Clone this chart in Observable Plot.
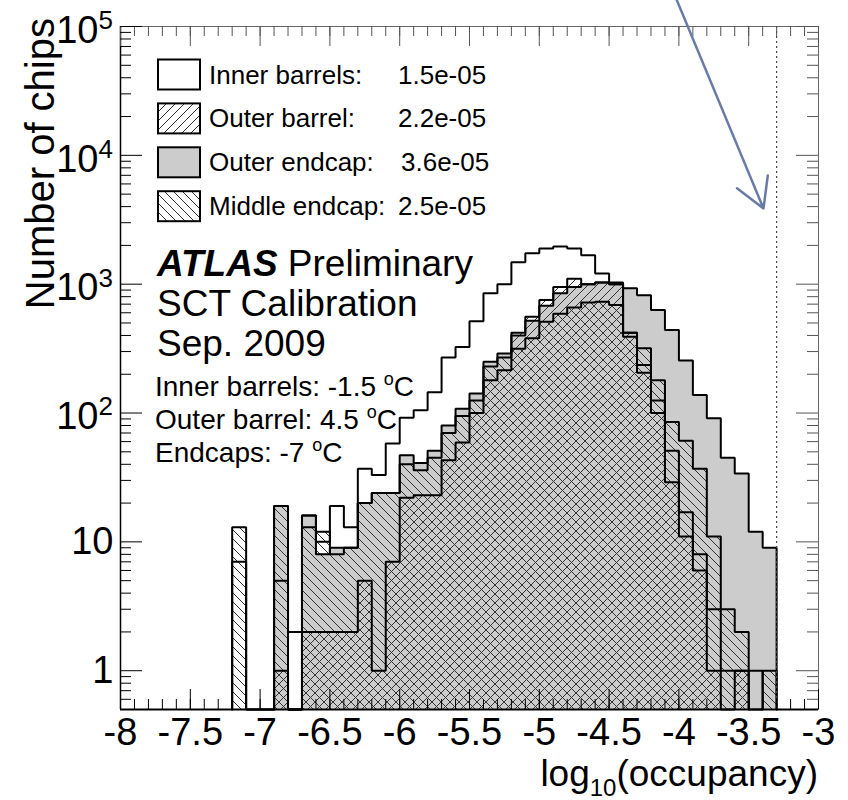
<!DOCTYPE html>
<html>
<head>
<meta charset="utf-8">
<script src="https://cdn.jsdelivr.net/npm/d3@7"></script>
<script src="https://cdn.jsdelivr.net/npm/@observablehq/plot@0.6"></script>
<style>
  body { margin: 0; background: #fff; }
  svg text { white-space: pre; }
</style>
</head>
<body>
<div id="chart"></div>
<script>
// ---------------- data ----------------
const binStart = [-7.2, -7.1, -7.0, -6.9, -6.8, -6.7, -6.6, -6.5, -6.4, -6.3,
                  -6.2, -6.1, -6.0, -5.9, -5.8, -5.7, -5.6, -5.5, -5.4, -5.3,
                  -5.2, -5.1, -5.0, -4.9, -4.8, -4.7, -4.6, -4.5, -4.4, -4.3,
                  -4.2, -4.1, -4.0, -3.9, -3.8, -3.7, -3.6, -3.5, -3.4];
const binWidth = 0.1;
const innerBarrels = [7, 0, 0, 5, 2, 16, 10, 19, 13, 37,
                      33, 58, 92, 105, 145, 270, 325, 515, 850, 1000,
                      1480, 1740, 1890, 1960, 1890, 1680, 1210, 1000, 420, 236,
                      125, 51, 17, 8, 3, 1, 1, 1, 0];
const outerBarrel = [0, 0, 0, 1, 0, 2, 2, 2, 2, 5,
                     1, 7, 22, 23, 23, 43, 59, 100, 180, 215,
                     420, 560, 754, 950, 1100, 1000, 1030, 1000, 420, 205,
                     100, 29, 11, 6, 1, 0, 1, 0, 0];
const outerEndcap = [0, 0, 0, 19, 0, 16, 8, 9, 9, 20,
                     24, 24, 47, 41, 51, 80, 108, 142, 250, 290,
                     400, 520, 680, 850, 950, 1000, 1030, 1030, 930, 820,
                     630, 440, 256, 138, 91, 45, 34, 12, 9];
const middleEndcap = [13, 0, 0, 19, 0, 13, 12, 8, 9, 20,
                      24, 24, 40, 36, 45, 70, 95, 125, 230, 270,
                      316, 380, 510, 590, 660, 720, 730, 690, 390, 318,
                      180, 85, 61, 37, 11, 3, 2, 0, 1];

const legendLabels = ["Inner barrels:", "Outer barrel:", "Outer endcap:", "Middle endcap:"];
const legendValues = ["1.5e-05", "2.2e-05", "3.6e-05", "2.5e-05"];
const legendValueX = [398, 398, 401, 398];

const xTickMajor = [-8, -7.5, -7, -6.5, -6, -5.5, -5, -4.5, -4, -3.5, -3];
const xTickLabels = ["-8", "-7.5", "-7", "-6.5", "-6", "-5.5", "-5", "-4.5", "-4", "-3.5", "-3"];
const yTickMajor = [1, 10, 100, 1000, 10000, 100000];
const yTickBase = ["1", "10", "10", "10", "10", "10"];
const yTickExp = ["", "", "2", "3", "4", "5"];

const thresholdX = [-3.3];
const arrowSpec = [{x1: -4.02, y1: 1.65e5, x2: -3.394, y2: 3870}];

const infoLines = ["SCT Calibration", "Sep. 2009"];
const tempLines = ["Inner barrels: -1.5 ", "Outer barrel: 4.5 ", "Endcaps: -7 "];

// ---------------- settings ----------------
const FONT = "'Liberation Sans', Arial, Helvetica, sans-serif";
const Y_MIN = 0.5, Y_MAX = 1e5;
const W = 848, H = 800, ML = 120, MR = 30, MT = 26, MB = 91;
const plotW = W - ML - MR, plotH = H - MT - MB;
const GRAY = "#cccccc";

const xMinor = d3.range(-80, -29).map(i => i / 10);
const yMinor = [];
for (let e = -1; e <= 4; e++) for (let m = 2; m <= 9; m++) {
  const v = m * Math.pow(10, e);
  if (v > Y_MIN && v < Y_MAX) yMinor.push(v);
}

function stepPoints(values) {
  const idx = values.map((v, i) => v > 0 ? i : -1).filter(i => i >= 0);
  const first = idx[0], last = idx[idx.length - 1];
  const pts = [{x: binStart[first], y: Y_MIN}];
  for (let i = first; i <= last; i++) {
    const v = values[i] > 0 ? values[i] : Y_MIN;
    pts.push({x: binStart[i], y: v}, {x: binStart[i] + binWidth, y: v});
  }
  pts.push({x: binStart[last] + binWidth, y: Y_MIN});
  return pts;
}

const ibPts = stepPoints(innerBarrels);
const obPts = stepPoints(outerBarrel);
const oePts = stepPoints(outerEndcap);
const mePts = stepPoints(middleEndcap);

const yLabelRows = yTickMajor.map((v, i) => ({v, base: yTickBase[i], exp: yTickExp[i]}));

const outline = {x: "x", y: "y", stroke: "#000", strokeWidth: 2, strokeLinejoin: "miter"};

const plot = Plot.plot({
  width: W, height: H,
  marginTop: MT, marginRight: MR, marginBottom: MB, marginLeft: ML,
  style: {fontFamily: FONT, background: "#fff", color: "#000"},
  x: {domain: [-8, -3], axis: null},
  y: {type: "log", domain: [Y_MIN, Y_MAX], axis: null},
  marks: [
    // fills
    Plot.areaY(oePts, {x: "x", y1: () => Y_MIN, y2: "y", fill: GRAY}),
    Plot.areaY(obPts, {x: "x", y1: () => Y_MIN, y2: "y", fill: "url(#hatchFwd)"}),
    Plot.areaY(mePts, {x: "x", y1: () => Y_MIN, y2: "y", fill: "url(#hatchBack)"}),
    // outlines
    Plot.line(oePts, outline),
    Plot.line(obPts, outline),
    Plot.line(mePts, outline),
    Plot.line(ibPts, outline),
    // threshold
    Plot.ruleX(thresholdX, {stroke: "#444", strokeWidth: 1.2, strokeDasharray: "2,3"}),
    // frame
    Plot.frame({stroke: "#666", strokeWidth: 1}),
    Plot.ruleX([-8], {stroke: "#000", strokeWidth: 1.5}),
    Plot.ruleY([Y_MIN], {stroke: "#000", strokeWidth: 2}),
    // ticks (inward)
    Plot.ruleX(xMinor, {insetTop: plotH - 10, stroke: "#000", strokeWidth: 1}),
    Plot.ruleX(xTickMajor, {insetTop: plotH - 20, stroke: "#000", strokeWidth: 1}),
    Plot.ruleX(xMinor, {insetBottom: plotH - 10, stroke: "#555", strokeWidth: 1}),
    Plot.ruleX(xTickMajor, {insetBottom: plotH - 20, stroke: "#555", strokeWidth: 1}),
    Plot.ruleY(yMinor, {insetRight: plotW - 11, stroke: "#000", strokeWidth: 1}),
    Plot.ruleY(yTickMajor, {insetRight: plotW - 22, stroke: "#000", strokeWidth: 1}),
    Plot.ruleY(yMinor, {insetLeft: plotW - 11, stroke: "#555", strokeWidth: 1}),
    Plot.ruleY(yTickMajor, {insetLeft: plotW - 22, stroke: "#555", strokeWidth: 1}),
    // tick labels
    Plot.text(xTickMajor, {x: d => d, text: (d, i) => xTickLabels[i], frameAnchor: "bottom",
      lineAnchor: "top", dy: 9, fontSize: 38, fill: "#000"}),
    Plot.text(yLabelRows.filter(d => d.exp === ""), {y: "v", text: "base", frameAnchor: "left",
      textAnchor: "end", dx: -7, fontSize: 38, fill: "#000"}),
    Plot.text(yLabelRows.filter(d => d.exp !== ""), {y: "v", text: "base", frameAnchor: "left",
      textAnchor: "end", dx: -22, dy: 4, fontSize: 38, fill: "#000"}),
    Plot.text(yLabelRows.filter(d => d.exp !== ""), {y: "v", text: "exp", frameAnchor: "left",
      textAnchor: "start", dx: -22, dy: -6, fontSize: 26, fill: "#000"}),
    // annotation arrow
    Plot.arrow(arrowSpec, {x1: "x1", y1: "y1", x2: "x2", y2: "y2", stroke: "#6a7ba8",
      strokeWidth: 2.5, headLength: 20, headAngle: 60})
  ]
});

const svg = d3.select(plot);
svg.attr("overflow", "visible");

// hatch patterns
const P = 9, HATCH = "#333";
const defs = svg.insert("defs", ":first-child");
defs.append("pattern").attr("id", "hatchFwd").attr("patternUnits", "userSpaceOnUse")
  .attr("width", P).attr("height", P)
  .append("path")
  .attr("d", `M-1,1 L1,-1 M0,${P} L${P},0 M${P - 1},${P + 1} L${P + 1},${P - 1}`)
  .attr("stroke", HATCH).attr("stroke-width", 1);
defs.append("pattern").attr("id", "hatchBack").attr("patternUnits", "userSpaceOnUse")
  .attr("width", P).attr("height", P)
  .append("path")
  .attr("d", `M-1,${P - 1} L1,${P + 1} M0,0 L${P},${P} M${P - 1},-1 L${P + 1},1`)
  .attr("stroke", HATCH).attr("stroke-width", 1);

const g = svg.append("g").attr("font-family", FONT).attr("fill", "#000")
  .attr("text-anchor", "start");

// legend
const legendFills = ["none", "url(#hatchFwd)", GRAY, "url(#hatchBack)"];
legendLabels.forEach((lab, i) => {
  const cy = 74.5 + i * 43.9;
  g.append("rect").attr("x", 158).attr("y", cy - 15).attr("width", 42).attr("height", 30)
    .attr("fill", "#fff");
  g.append("rect").attr("x", 158).attr("y", cy - 15).attr("width", 42).attr("height", 30)
    .attr("fill", legendFills[i]).attr("stroke", "#000").attr("stroke-width", 2);
  g.append("text").attr("x", 209).attr("y", cy + 9).attr("font-size", 26).text(lab);
  g.append("text").attr("x", legendValueX[i]).attr("y", cy + 9).attr("font-size", 26).text(legendValues[i]);
});

// ATLAS label
const t1 = g.append("text").attr("x", 157).attr("y", 276).attr("font-size", 37);
t1.append("tspan").attr("font-weight", "bold").attr("font-style", "italic").text("ATLAS");
t1.append("tspan").text(" Preliminary");
infoLines.forEach((s, i) => {
  g.append("text").attr("x", 157).attr("y", 316 + i * 40).attr("font-size", 37).text(s);
});
tempLines.forEach((s, i) => {
  const t = g.append("text").attr("x", 155).attr("y", 396 + i * 33).attr("font-size", 28);
  t.append("tspan").text(s);
  t.append("tspan").attr("font-size", 18).attr("dy", -11).text("o");
  t.append("tspan").attr("dy", 11).text("C");
});

// axis titles
g.append("text").attr("transform", "translate(54,18) rotate(-90)")
  .attr("text-anchor", "end").attr("font-size", 40).text("Number of chips");
const xt = g.append("text").attr("x", 818).attr("y", 786).attr("text-anchor", "end").attr("font-size", 37);
xt.append("tspan").text("log");
xt.append("tspan").attr("font-size", 24).attr("dy", 10).text("10");
xt.append("tspan").attr("dy", -10).text("(occupancy)");

document.getElementById("chart").appendChild(plot);
</script>
</body>
</html>
